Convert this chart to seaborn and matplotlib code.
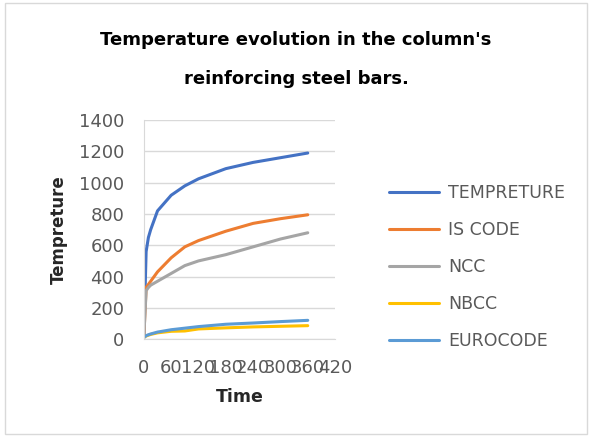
import matplotlib
matplotlib.use("Agg")
import matplotlib.pyplot as plt
import seaborn as sns
import pandas as pd

time = [0, 5, 10, 15, 30, 60, 90, 120, 180, 240, 300, 360]
tempreture = [20, 560, 650, 700, 820, 920, 980, 1025, 1090, 1130, 1160, 1190]
is_code = [20, 330, 350, 370, 430, 520, 590, 630, 690, 740, 770, 795]
ncc = [20, 310, 330, 345, 370, 420, 470, 500, 540, 590, 640, 680]
nbcc = [10, 20, 25, 30, 40, 50, 52, 65, 72, 78, 82, 86]
eurocode = [10, 22, 28, 33, 45, 60, 70, 80, 95, 103, 112, 120]

series = ["TEMPRETURE", "IS CODE", "NCC", "NBCC", "EUROCODE"]
colors = ["#4472C4", "#ED7D31", "#A5A5A5", "#FFC000", "#5B9BD5"]

df = pd.DataFrame({"Time": time, "TEMPRETURE": tempreture, "IS CODE": is_code,
                   "NCC": ncc, "NBCC": nbcc, "EUROCODE": eurocode})
long_df = df.melt(id_vars="Time", var_name="series", value_name="Temp")

sns.set_style("white")
plt.rcParams["font.family"] = ["DejaVu Sans"]

fig = plt.figure(figsize=(5.92, 4.37), dpi=100)
ax = fig.add_axes([0.243, 0.224, 0.323, 0.501])

sns.lineplot(data=long_df, x="Time", y="Temp", hue="series", hue_order=series,
             palette=colors, linewidth=2.2, ax=ax)

ax.set_xlim(0, 420)
ax.set_ylim(0, 1400)
ax.set_xticks(range(0, 421, 60))
ax.set_yticks(range(0, 1401, 200))
ax.yaxis.grid(True, color="#D9D9D9", linewidth=1)
ax.tick_params(axis="both", length=0, labelsize=13, labelcolor="#595959")
ax.tick_params(axis="x", pad=14)
ax.tick_params(axis="y", pad=14)
for side in ["top", "right"]:
    ax.spines[side].set_visible(False)
for side in ["left", "bottom"]:
    ax.spines[side].set_color("#D9D9D9")

ax.set_xlabel("Time", fontsize=12.5, fontweight="bold", labelpad=8)
ax.set_ylabel("Tempreture", fontsize=12, fontweight="bold", labelpad=8)

ax.legend(loc="center left", bbox_to_anchor=(1.2, 0.33), frameon=False,
          fontsize=12.5, labelspacing=1.1, handlelength=2.9, handletextpad=0.5,
          labelcolor="#595959")

fig.text(0.5, 0.908, "Temperature evolution in the column's", ha="center", va="center",
         fontsize=13, fontweight="bold", color="black")
fig.text(0.5, 0.82, "reinforcing steel bars.", ha="center", va="center",
         fontsize=13, fontweight="bold", color="black")

fig.patches.append(plt.Rectangle((0.008, 0.008), 0.984, 0.984, transform=fig.transFigure,
                                 fill=False, edgecolor="#D9D9D9", linewidth=1))

fig.savefig("out.png", dpi=100)
